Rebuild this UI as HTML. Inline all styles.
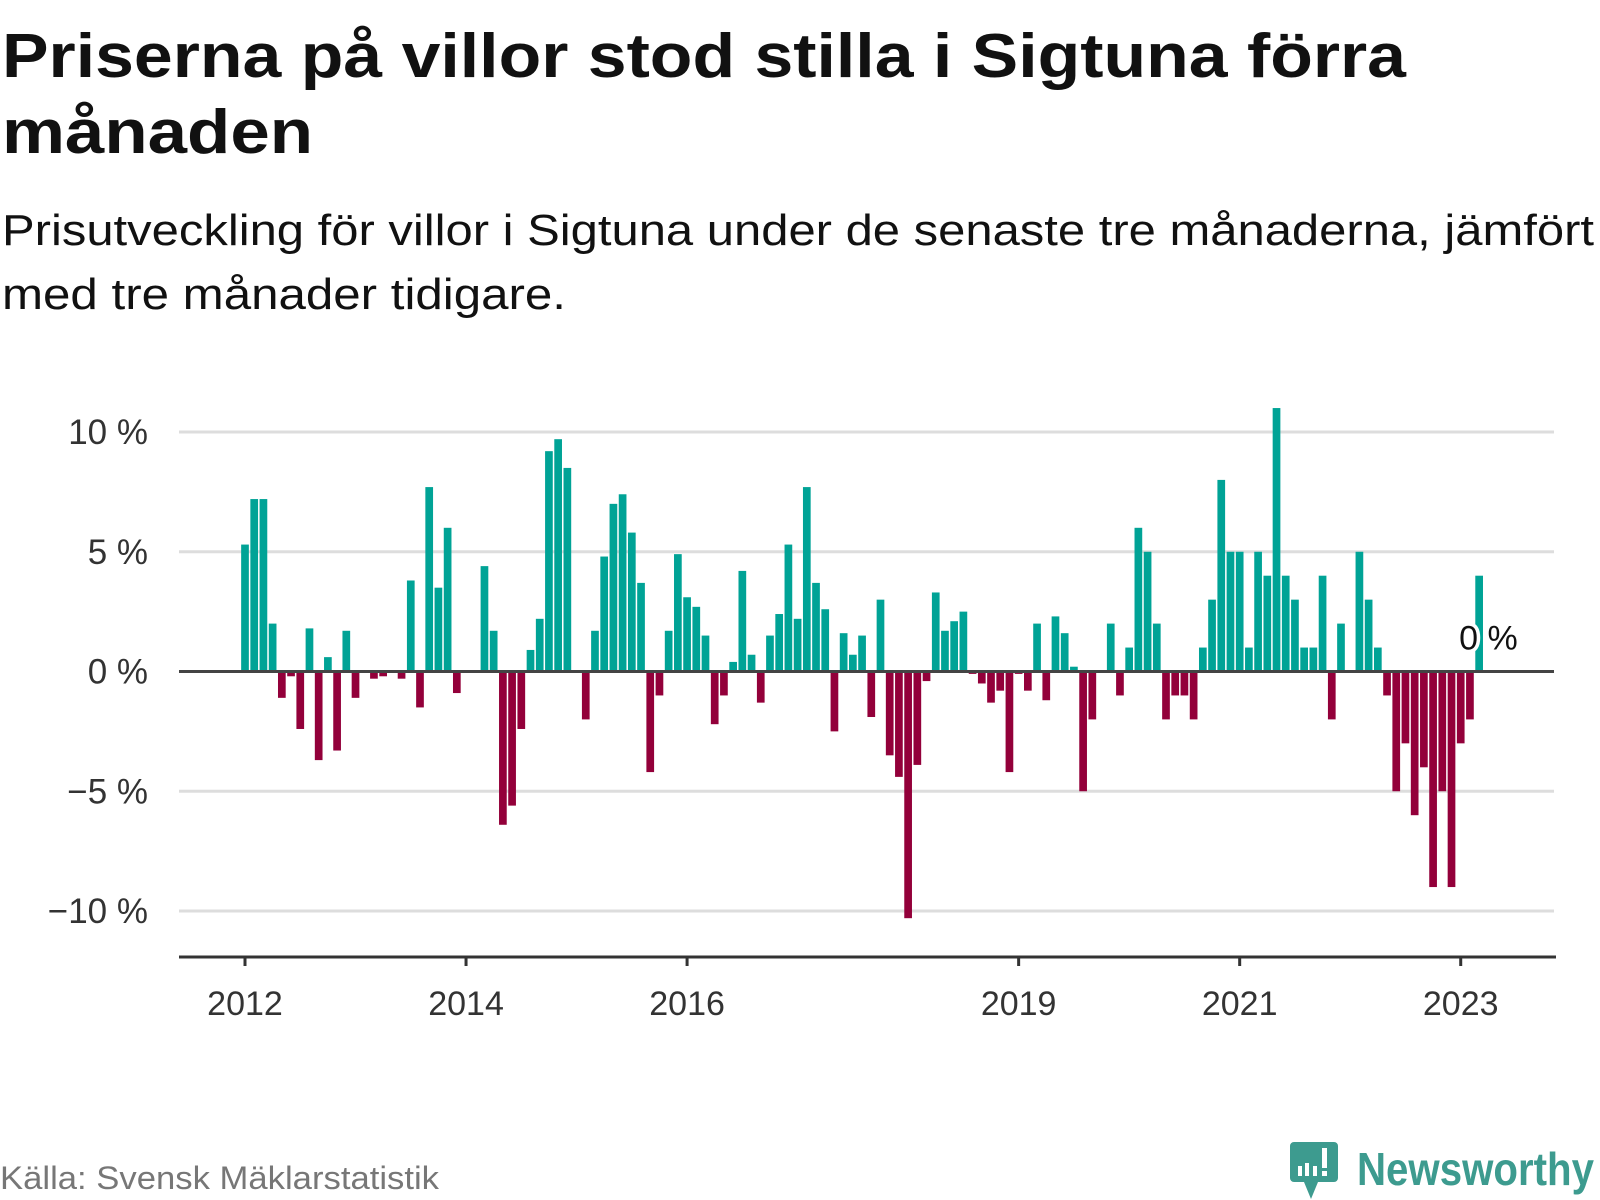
<!DOCTYPE html>
<html><head><meta charset="utf-8">
<style>
html,body{margin:0;padding:0;background:#fff;}
svg{display:block;font-family:"Liberation Sans","DejaVu Sans",sans-serif;}
</style></head>
<body>
<svg id="chart" width="1600" height="1200" viewBox="0 0 1600 1200" xmlns="http://www.w3.org/2000/svg">
  <text x="2" y="77" font-size="62" font-weight="bold" fill="#111" textLength="1404" lengthAdjust="spacingAndGlyphs">Priserna på villor stod stilla i Sigtuna förra</text>
  <text x="2" y="153" font-size="62" font-weight="bold" fill="#111" textLength="311" lengthAdjust="spacingAndGlyphs">månaden</text>
  <text x="2" y="245" font-size="44" fill="#111" textLength="1592" lengthAdjust="spacingAndGlyphs">Prisutveckling för villor i Sigtuna under de senaste tre månaderna, jämfört</text>
  <text x="2" y="309" font-size="44" fill="#111" textLength="564" lengthAdjust="spacingAndGlyphs">med tre månader tidigare.</text>
  <g id="grid"></g>
  <g id="yaxis"></g>
  <g id="bars"></g>
  <line id="zero" x1="179" x2="1554" stroke="#444" stroke-width="3"/>
  <g id="xaxis"></g>
  <text id="lastlabel" font-size="34" fill="#111" stroke="#fff" stroke-width="7" paint-order="stroke" stroke-linejoin="round">0 %</text>
  <text x="0" y="1189" font-size="32" fill="#777" textLength="439" lengthAdjust="spacingAndGlyphs">Källa: Svensk Mäklarstatistik</text>
  <g>
    <path d="M1294 1142 h40 a4 4 0 0 1 4 4 v32 a4 4 0 0 1 -4 4 h-16 l-7 17 l-7 -17 h-10 a4 4 0 0 1 -4 -4 v-32 a4 4 0 0 1 4 -4z" fill="#3d9b8f"/>
    <rect x="1298" y="1166" width="4" height="10" fill="#fff"/>
    <rect x="1305" y="1163" width="4" height="13" fill="#fff"/>
    <rect x="1313" y="1166" width="4" height="10" fill="#fff"/>
    <rect x="1322" y="1148" width="5" height="20" fill="#fff"/>
    <rect x="1322" y="1171" width="5" height="5" fill="#fff"/>
    <text x="1357" y="1185" font-size="46" font-weight="bold" fill="#3d9b8f" textLength="237" lengthAdjust="spacingAndGlyphs">Newsworthy</text>
  </g>
</svg>
<script>
const values = [
 5.3,7.2,7.2,2.0,-1.1,-0.2,-2.4,1.8,-3.7,0.6,-3.3,1.7,
 -1.1,0,-0.3,-0.2,0,-0.3,3.8,-1.5,7.7,3.5,6.0,-0.9,
 0,0,4.4,1.7,-6.4,-5.6,-2.4,0.9,2.2,9.2,9.7,8.5,
 0,-2.0,1.7,4.8,7.0,7.4,5.8,3.7,-4.2,-1.0,1.7,4.9,
 3.1,2.7,1.5,-2.2,-1.0,0.4,4.2,0.7,-1.3,1.5,2.4,5.3,
 2.2,7.7,3.7,2.6,-2.5,1.6,0.7,1.5,-1.9,3.0,-3.5,-4.4,
 -10.3,-3.9,-0.4,3.3,1.7,2.1,2.5,-0.1,-0.5,-1.3,-0.8,-4.2,
 -0.1,-0.8,2.0,-1.2,2.3,1.6,0.2,-5.0,-2.0,0,2.0,-1.0,
 1.0,6.0,5.0,2.0,-2.0,-1.0,-1.0,-2.0,1.0,3.0,8.0,5.0,
 5.0,1.0,5.0,4.0,11.0,4.0,3.0,1.0,1.0,4.0,-2.0,2.0,
 0,5.0,3.0,1.0,-1.0,-5.0,-3.0,-6.0,-4.0,-9.0,-5.0,-9.0,
 -3.0,-2.0,4.0
];
const startYear = 2012;
const yTicks = [10,5,0,-5,-10];
const yTickLabels = ["10 %","5 %","0 %","−5 %","−10 %"];
const xTickYears = [2012,2014,2016,2019,2021,2023];
const lastLabel = "0 %";

const NS = "http://www.w3.org/2000/svg";
const Y0 = 671.5, PERPCT = 23.95;
const X0 = 245, PERMONTH = 9.21, BARW = 7.7;
function y(v){ return Y0 - v*PERPCT; }
function x(i){ return X0 + i*PERMONTH; }
function mk(tag, attrs, parent){ const e=document.createElementNS(NS,tag); for(const k in attrs) e.setAttribute(k,attrs[k]); parent.appendChild(e); return e; }

const grid=document.getElementById('grid'), yaxis=document.getElementById('yaxis');
yTicks.forEach((t,i)=>{
  const g=mk('line',{x1:179,x2:1554,y1:y(t),y2:y(t),stroke:'#ddd','stroke-width':3},grid);
  
  
  const tx=mk('text',{x:148,y:y(t)+12,'font-size':35,fill:'#333','text-anchor':'end'},yaxis);
  tx.textContent=yTickLabels[i];
  
  
});
const zero=document.getElementById('zero'); zero.setAttribute('y1',y(0)); zero.setAttribute('y2',y(0));

const bars=document.getElementById('bars');
values.forEach((v,i)=>{
  const top=Math.min(y(v),y(0)), h=Math.abs(y(v)-y(0));
  const r=mk('rect',{x:x(i)-BARW/2,y:top,width:BARW,height:h,fill:v>=0?'#00a396':'#93003a'},bars);
  
  
});

const xaxis=document.getElementById('xaxis');
const al=mk('line',{x1:179,x2:1556,y1:957,y2:957,stroke:'#333','stroke-width':3},xaxis);


xTickYears.forEach(yr=>{
  const xi=x((yr-startYear)*12);
  const tk=mk('line',{x1:xi,x2:xi,y1:957,y2:966,stroke:'#333','stroke-width':3},xaxis);
  
  
  const tx=mk('text',{x:xi,y:1015,'font-size':34,fill:'#333','text-anchor':'middle'},xaxis);
  tx.textContent=String(yr);
  
  
});
const ll=document.getElementById('lastlabel');
ll.textContent=lastLabel;
ll.setAttribute('x',x(values.length-1)-20);
ll.setAttribute('y',y(0)-22);
</script>
</body></html>
